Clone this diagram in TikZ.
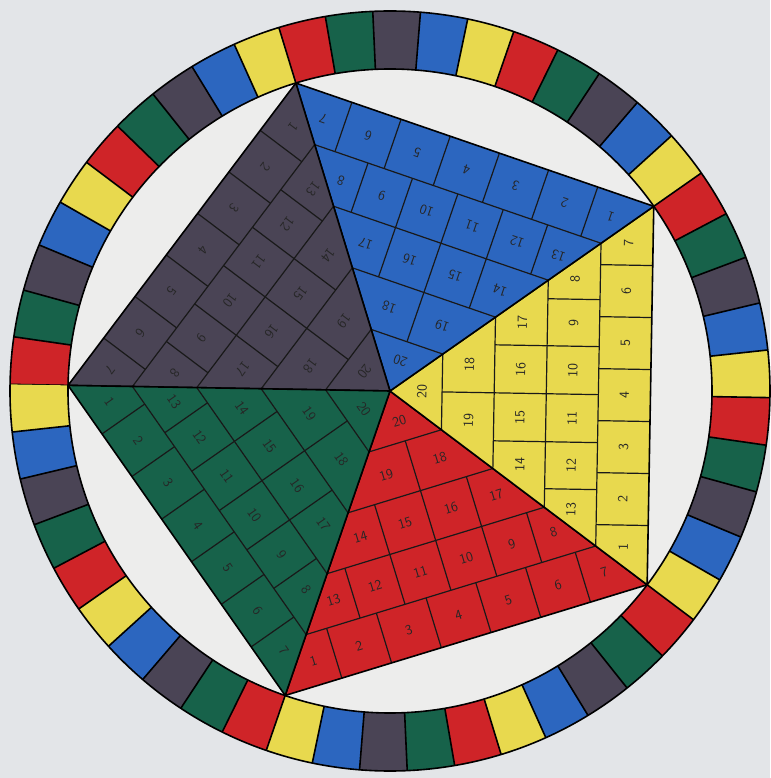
\documentclass[tikz,border=0pt]{standalone}
\usepackage{fontspec}
\definecolor{cred}{HTML}{CF2428}
\definecolor{cgreen}{HTML}{17624A}
\definecolor{cdark}{HTML}{4A4455}
\definecolor{cblue}{HTML}{2C66BF}
\definecolor{cyellow}{HTML}{E8D94E}
\definecolor{bgout}{HTML}{E3E5E8}
\definecolor{bgin}{HTML}{EDEDEC}
\tikzset{
  gridline/.style={line width=1.2pt, draw=black!90},
  edgeline/.style={line width=1.6pt, draw=black},
  lbl/.style={font=\sffamily\fontsize{14}{14}\selectfont, text=black!85, inner sep=0pt, transform shape},
}
\newcommand\mytri[3]{%
\begin{scope}[rotate=#1]
\fill[#2] (0,0) -- (-189.27,-260.5) -- (189.27,-260.5) -- cycle;
\draw[gridline] (-151.4,-208.4) -- (151.4,-208.4)
  (-113.6,-156.3) -- (113.6,-156.3)
  (-75.7,-104.2) -- (75.7,-104.2)
  (-37.85,-52.1) -- (37.85,-52.1);
\foreach \c in {-130,-78,-26,26,78,130} \draw[gridline] (\c,-260.5) -- (\c,-208.4);
\foreach \c in {-95,-48,0,48,95} \draw[gridline] (\c,-208.4) -- (\c,-156.3);
\foreach \c in {-48,0,48} \draw[gridline] (\c,-156.3) -- (\c,-104.2);
\draw[gridline] (0,-104.2) -- (0,-52.1);
\draw[edgeline, line join=round] (0,0) -- (-189.27,-260.5) -- (189.27,-260.5) -- cycle;
\foreach \x/\y/\n in {-152/-236/1, -104/-234.5/2, -52/-234.5/3, 0/-234.5/4, 52/-234.5/5, 104/-234.5/6, 152/-236/7,
  115/-183/8, 71.5/-182.4/9, 24/-182.4/10, -24/-182.4/11, -71.5/-182.4/12, -115/-183/13,
  -71/-131/14, -24/-130.3/15, 24/-130.3/16, 71/-131/17, 28/-79/18, -28/-79/19, 0/-32/20}
  \node[lbl] (#3-\n) at (\x,\y) {\n};
\end{scope}}
\begin{document}
\begin{tikzpicture}[x=1pt,y=1pt]
\useasboundingbox (-390,-387) rectangle (380,391);
\fill[bgout] (-390,-387) rectangle (380,391);
\fill[bgin] (0,0) circle[radius=322];
% ring
\foreach \k in {0,...,49}{
  \pgfmathsetmacro\aone{179-7.2*\k}
  \pgfmathsetmacro\atwo{179-7.2*(\k+1)}
  \pgfmathtruncatemacro\m{mod(\k,5)}
  \ifcase\m \def\cc{cred}\or \def\cc{cgreen}\or \def\cc{cdark}\or \def\cc{cblue}\or \def\cc{cyellow}\fi
  \fill[\cc] (\aone:322) arc[start angle=\aone, end angle=\atwo, radius=322] -- (\atwo:380) arc[start angle=\atwo, end angle=\aone, radius=380] -- cycle;
  \draw[edgeline] (\aone:322) -- (\aone:380);
}
\draw[edgeline] (0,0) circle[radius=322];
\draw[edgeline] (0,0) circle[radius=380];
% pentagon triangles
\mytri{17}{cred}{red}
\mytri{89}{cyellow}{yel}
\mytri{161}{cblue}{blu}
\mytri{233}{cdark}{drk}
\mytri{305}{cgreen}{grn}
\end{tikzpicture}
\end{document}
